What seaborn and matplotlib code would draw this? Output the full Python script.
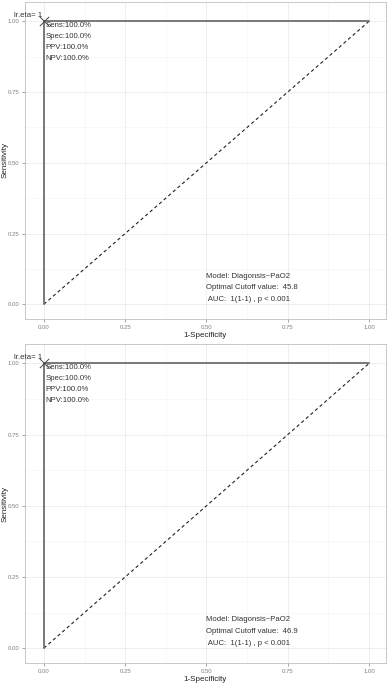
import matplotlib
matplotlib.use("Agg")
import matplotlib.pyplot as plt
import pandas as pd
import seaborn as sns

# ROC curve points (perfect classifier)
fpr = [0.0, 0.0, 1.0]
tpr = [0.0, 1.0, 1.0]
diag_x = [0.0, 1.0]
diag_y = [0.0, 1.0]

# per-panel annotation values
cutoffs = ["45.8", "46.9"]
model_name = "Diagonsis~PaO2"
lr_eta = 1
stats_labels = ["Sens:100.0%", "Spec:100.0%", "PPV:100.0%", "NPV:100.0%"]
ticks = [0.0, 0.25, 0.5, 0.75, 1.0]
tick_labels = ["0.00", "0.25", "0.50", "0.75", "1.00"]
minor_ticks = [0.125, 0.375, 0.625, 0.875]

sns.set_theme(style="white")
plt.rcParams['font.family'] = ['Liberation Sans', 'DejaVu Sans']

roc_df = pd.DataFrame({"fpr": fpr, "tpr": tpr})
diag_df = pd.DataFrame({"x": diag_x, "y": diag_y})

fig = plt.figure(figsize=(3.87, 6.85), dpi=100)
W, H = 387, 685
# (top px, bottom px) of each panel
panels = [(2, 319), (344, 663)]

for (top, bottom), cutoff in zip(panels, cutoffs):
    ax = fig.add_axes([25 / W, 1 - bottom / H, 361 / W, (bottom - top) / H])
    ax.set_xlim(-0.058, 1.052)
    ax.set_ylim(-0.052, 1.068)

    # grid
    for t in ticks:
        ax.axvline(t, color="#ebebeb", lw=0.6, zorder=0)
        ax.axhline(t, color="#ebebeb", lw=0.6, zorder=0)
    for t in minor_ticks:
        ax.axvline(t, color="#f4f4f4", lw=0.4, zorder=0)
        ax.axhline(t, color="#f4f4f4", lw=0.4, zorder=0)

    sns.lineplot(data=diag_df, x="x", y="y", ax=ax, color="#222222",
                 lw=0.8, linestyle=(0, (3, 2.5)), sort=False)
    sns.lineplot(data=roc_df, x="fpr", y="tpr", ax=ax, color="#6e6e6e",
                 lw=1.3, sort=False, estimator=None)
    ax.scatter([fpr[1]], [tpr[1]], marker="x", s=45, color="#444444",
               linewidths=0.7, zorder=5)

    ax.text(-0.004, 1.008, f"lr.eta= {lr_eta}", fontsize=5.6, color="#333333",
            ha="right", va="bottom")
    for i, s in enumerate(stats_labels):
        ax.text(0.006, 0.985 - i * 0.039, s, fontsize=5.6, color="#333333",
                ha="left", va="center")

    note = [f"Model: {model_name}", f"Optimal Cutoff value:  {cutoff}",
            " AUC:  1(1-1) , p < 0.001"]
    for i, s in enumerate(note):
        ax.text(0.50, 0.099 - i * 0.041, s, fontsize=5.6, color="#333333",
                ha="left", va="center")

    ax.set_xticks(ticks)
    ax.set_xticklabels(tick_labels)
    ax.set_yticks(ticks)
    ax.set_yticklabels(tick_labels)
    ax.tick_params(axis="both", labelsize=4.3, labelcolor="#7f7f7f",
                   length=2, width=0.5, color="#7f7f7f", pad=2,
                   bottom=True, left=True)
    ax.set_xlabel("1-Specificity", fontsize=5.8, color="#222222", labelpad=1.5)
    ax.set_ylabel("Sensitivity", fontsize=5.8, color="#222222")
    ax.yaxis.set_label_coords(-0.046, 0.5)
    for sp in ax.spines.values():
        sp.set_color("#c8c8c8")
        sp.set_linewidth(0.7)
    ax.grid(False)

fig.savefig("out.png", dpi=100)
